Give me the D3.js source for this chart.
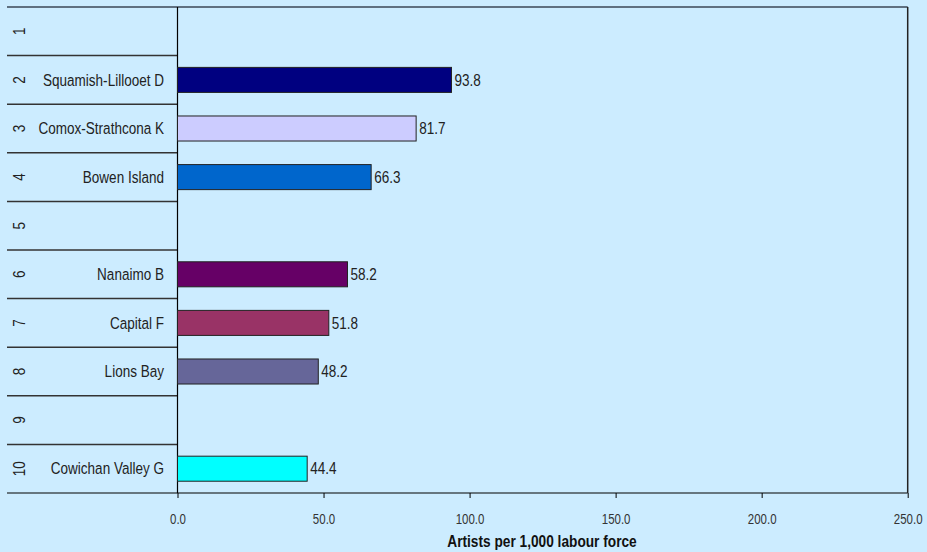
<!DOCTYPE html>
<html><head><meta charset="utf-8">
<script src="https://cdn.jsdelivr.net/npm/d3@7"></script>
<style>body{margin:0;background:#CCECFF;}svg{display:block;font-family:"Liberation Sans",Arial,sans-serif;}</style>
</head><body><svg id="c" width="927" height="552"></svg>
<script>
const rankLabels = ["1","2","3","4","5","6","7","8","9","10"];
const names = ["","Squamish-Lillooet D","Comox-Strathcona K","Bowen Island","","Nanaimo B","Capital F","Lions Bay","","Cowichan Valley G"];
const values = [null,93.8,81.7,66.3,null,58.2,51.8,48.2,null,44.4];
const colors = [null,"#000080","#CCCCFF","#0066CC",null,"#660066","#993366","#666699",null,"#00FFFF"];
const xTicks = [0,50,100,150,200,250];
const xTitle = "Artists per 1,000 labour force";

const SX = 0.82; // condensed text (Arial Narrow look)
const svg = d3.select("#c");
svg.append("rect").attr("width",927).attr("height",552).attr("fill","#CCECFF");
const L=177.5, R=907.7, T=7, B=493, outerL=7;
const x = d3.scaleLinear().domain([0,250]).range([L,R]);
const y = d3.scaleBand().domain(rankLabels).range([T,B]).paddingInner(0.485).paddingOuter(0.2425);
const row = d3.scaleBand().domain(rankLabels).range([T,B]);

svg.append("line").attr("x1",outerL).attr("x2",R).attr("y1",T).attr("y2",T).attr("stroke","#5f7080").attr("stroke-width",2);
rankLabels.forEach((r,i)=>{ if(i>0){
  svg.append("line").attr("x1",outerL).attr("x2",L).attr("y1",row(r)).attr("y2",row(r)).attr("stroke","#333").attr("stroke-width",1.5);
}});
svg.append("line").attr("x1",outerL).attr("x2",R).attr("y1",B).attr("y2",B).attr("stroke","#000").attr("stroke-width",1.2);
svg.append("line").attr("x1",L).attr("x2",L).attr("y1",T).attr("y2",B).attr("stroke","#000").attr("stroke-width",1.2);
svg.append("line").attr("x1",R).attr("x2",R).attr("y1",T).attr("y2",B).attr("stroke","#222").attr("stroke-width",1.5);

const ax = svg.append("g").attr("transform",`translate(0,${B})`)
  .call(d3.axisBottom(x).tickValues(xTicks).tickFormat(d3.format(".1f")).tickSize(5).tickPadding(16));
ax.select(".domain").remove();
ax.selectAll("line").attr("stroke","#000");
ax.selectAll("text").attr("font-size",14).attr("fill","#333").attr("transform",`scale(${SX},1)`)
  .attr("x",function(){ return 0; });
// scale around tick position: tick groups are translated, so scale about local origin works
rankLabels.forEach((r,i)=>{
  const cy = row(r)+row.bandwidth()/2;
  svg.append("text").attr("transform",`translate(25,${cy}) rotate(-90) scale(${SX},1)`).attr("text-anchor","middle")
    .attr("font-size",16.5).attr("fill","#222").text(r);
  if(names[i]) svg.append("text").attr("transform",`translate(164,${cy}) scale(${SX},1)`).attr("dy","0.35em").attr("text-anchor","end")
    .attr("font-size",16.5).attr("fill","#222").text(names[i]);
});

const data = rankLabels.map((r,i)=>({r,v:values[i],c:colors[i]})).filter(d=>d.v!=null);
svg.selectAll("rect.bar").data(data).enter().append("rect").attr("class","bar")
  .attr("x",x(0)).attr("y",d=>y(d.r)).attr("width",d=>x(d.v)-x(0)).attr("height",y.bandwidth())
  .attr("fill",d=>d.c).attr("stroke","#222").attr("stroke-width",1);
svg.selectAll("text.val").data(data).enter().append("text").attr("class","val")
  .attr("transform",d=>`translate(${x(d.v)+3},${y(d.r)+y.bandwidth()/2}) scale(${SX},1)`).attr("dy","0.35em")
  .attr("font-size",16.5).attr("fill","#222").text(d=>d.v.toFixed(1));

svg.append("text").attr("transform",`translate(542,547) scale(0.83,1)`).attr("text-anchor","middle").attr("font-size",16.5)
  .attr("font-weight","bold").attr("fill","#111").text(xTitle);
</script></body></html>
